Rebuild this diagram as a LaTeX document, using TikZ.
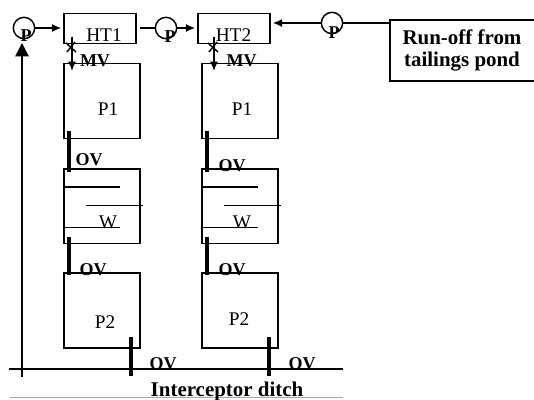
\documentclass[tikz,border=0pt]{standalone}
\usepackage{fontspec}
\setmainfont{Liberation Serif}
\usetikzlibrary{arrows.meta}
\tikzset{
  x=0.75pt,y=-0.75pt,
  box/.style={draw=black,line width=1.1pt,inner sep=0pt,fill=none},
  tank/.style={box,minimum width=54pt,minimum height=22.5pt},
  pond/.style={box,minimum width=57pt,minimum height=56pt},
  pump/.style={circle,draw=black,line width=1.1pt,minimum size=16pt,inner sep=0pt},
  lbl/.style={inner sep=0pt,font=\fontsize{14.5}{15}\selectfont},
  blbl/.style={inner sep=0pt,font=\fontsize{13.5}{15}\selectfont\bfseries},
  bigb/.style={inner sep=0pt,anchor=base,font=\fontsize{15.7}{17}\selectfont\bfseries},
  pipe/.style={line width=1.1pt},
  flow/.style={pipe,-{Latex[length=7pt,width=6pt]}},
  over/.style={line width=2.6pt},
  baffle/.style={line width=1pt},
}
\begin{document}
\begin{tikzpicture}
\useasboundingbox (0,0) rectangle (534,399);
% boxes
\node[tank] (ht1) at (100,28.5) {};
\node[tank] (ht2) at (234,28.5) {};
\node[pond] (p1a) at (102,101) {};
\node[pond] (p1b) at (240,101) {};
\node[pond] (wa) at (102,206.25) {};
\node[pond] (wb) at (240,206.25) {};
\node[pond] (p2a) at (102,310.5) {};
\node[pond] (p2b) at (240,310.5) {};
% pumps
\node[pump] (pa) at (24,28) {};
\node[pump] (pb) at (166,28) {};
\node[pump] (pc) at (332,23) {};
% run-off box, running off the right edge
\coordinate (ra) at (390,20);
\coordinate (rb) at (390,81);
\draw[pipe] (534,20) -- (ra) -- (rb) -- (534,81);
% pipes
\draw[flow] (pa) -- ([xshift=-1.5pt]ht1.west |- pa);
\draw[pipe] (ht1.east |- pb) ++(3,0) coordinate (o1) -- (pb);
\draw[flow] (pb) -- ([xshift=-1.5pt]ht2.west |- pb);
\draw[pipe] (ra |- pc) -- (pc);
\draw[flow] (pc) -- ([xshift=1.5pt]ht2.east |- pc);
% return line
\coordinate (rt) at (22,377);
\draw[pipe,-{Triangle[length=10pt,width=10pt]}] (rt) -- (22,43);
% valves
\foreach \n/\x in {a/72,b/214}{
  \coordinate (mv\n) at (\x,37);
  \coordinate (mve\n) at (\x,71);
  \draw[flow] (mv\n) -- (mve\n);
  \draw[pipe] (\x-6,43) -- (\x+4,52);
  \draw[pipe] (\x-5,52) -- (\x+3,42);
}
% overflows
\foreach \n/\x in {a/69,b/207}{
  \draw[over] (\x,131) -- (\x,172);
  \draw[over] (\x,237) -- (\x,275);
  \draw[over] (\x+62,337) -- (\x+62,376);
}
% baffles
\foreach \x in {64,202}{
  \draw[baffle] (\x,187) -- (\x+56,187);
  \draw[baffle] (\x+22,205.5) -- (\x+79,205.5);
  \draw[baffle] (\x,227.5) -- (\x+56,227.5);
}
% ditch
\draw[pipe] (9,369) -- (343,369);
\draw[draw=black!35,line width=0.8pt] (10,397.5) -- (343,397.5);
% labels
\node[lbl] (tht1) at (104,35) {HT1};
\node[lbl] (tht2) at (233.5,35) {HT2};
\node[blbl] (tmva) at (95,61) {MV};
\node[blbl] (tmvb) at (241.5,61) {MV};
\node[lbl] (tp1a) at (108,109) {P1};
\node[lbl] (tp1b) at (242,109) {P1};
\node[blbl] (tova) at (89,160) {OV};
\node[blbl] (tovb) at (232,166) {OV};
\node[lbl] (twa) at (108,222.5) {W};
\node[lbl] (twb) at (242,222.5) {W};
\node[blbl] (tovc) at (93,270) {OV};
\node[blbl] (tovd) at (232,270) {OV};
\node[lbl] (tp2a) at (105,322.5) {P2};
\node[lbl] (tp2b) at (239,319) {P2};
\node[blbl] (tove) at (163,364) {OV};
\node[blbl] (tovf) at (302,364) {OV};
\node[blbl] (tpa) at (26,36) {P};
\node[blbl] (tpb) at (170,37) {P};
\node[blbl] (tpc) at (334,33) {P};
\node[bigb] (trun) at (462,45) {Run-off from};
\node[bigb] (ttail) at (462,67) {tailings pond};
\node[bigb] (tdit) at (227,396) {Interceptor ditch};
\end{tikzpicture}
\end{document}
